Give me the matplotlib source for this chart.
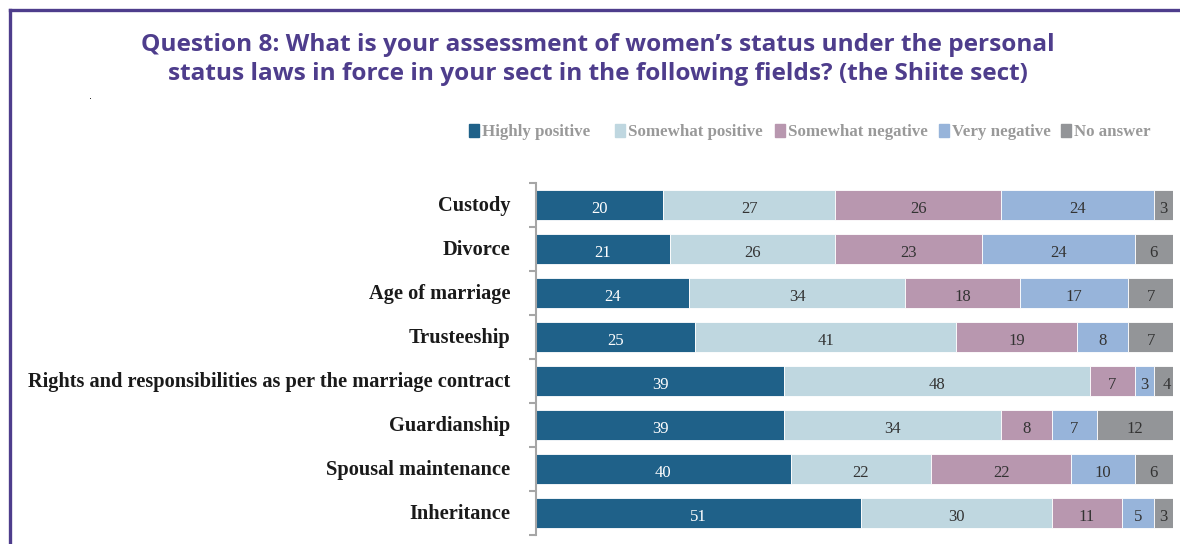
import matplotlib.pyplot as plt
from matplotlib.patches import Rectangle
from matplotlib.lines import Line2D

categories = ["Custody", "Divorce", "Age of marriage", "Trusteeship",
              "Rights and responsibilities as per the marriage contract",
              "Guardianship", "Spousal maintenance", "Inheritance"]
series = ["Highly positive", "Somewhat positive", "Somewhat negative",
          "Very negative", "No answer"]
highly_pos = [20, 21, 24, 25, 39, 39, 40, 51]
somewhat_pos = [27, 26, 34, 41, 48, 34, 22, 30]
somewhat_neg = [26, 23, 18, 19, 7, 8, 22, 11]
very_neg = [24, 24, 17, 8, 3, 7, 10, 5]
no_answer = [3, 6, 7, 7, 4, 12, 6, 3]

colors = ["#1f6189", "#bfd7e0", "#b897af", "#97b4da", "#939598"]
text_colors = ["white", "#333333", "#333333", "#333333", "#333333"]
purple = "#4e3d8c"

fig = plt.figure(figsize=(11.8, 5.44), dpi=100)

# purple frame along the top and left edges
fig.add_artist(Line2D([10 / 1180, 1.0], [1 - 10 / 544] * 2, color=purple, lw=2.4))
fig.add_artist(Line2D([10 / 1180] * 2, [0, 1 - 10 / 544], color=purple, lw=2.4))

fig.text(598 / 1180, 1 - 45 / 544,
         "Question 8: What is your assessment of women\u2019s status under the personal",
         ha="center", va="center", fontsize=17.6, fontweight="bold",
         family="Open Sans", color=purple)
fig.text(598 / 1180, 1 - 74 / 544,
         "status laws in force in your sect in the following fields? (the Shiite sect)",
         ha="center", va="center", fontsize=17.6, fontweight="bold",
         family="Open Sans", color=purple)
fig.text(91 / 1180, 1 - 96 / 544, ".", fontsize=7, color="black", ha="center", va="center")

ax = fig.add_axes([536 / 1180, 1 - 535 / 544, 637 / 1180, 352 / 544])

data = [highly_pos, somewhat_pos, somewhat_neg, very_neg, no_answer]
y = list(range(len(categories)))
left = [0] * len(categories)
for vals, col, tcol, name in zip(data, colors, text_colors, series):
    ax.barh(y, vals, left=left, height=0.68, color=col, edgecolor="white",
            linewidth=0.6, label=name)
    for yi, v, l in zip(y, vals, left):
        ax.text(l + v / 2, yi + 0.1, str(v), ha="center", va="center",
                fontsize=12, family="Liberation Serif", color=tcol)
    left = [l + v for l, v in zip(left, vals)]

ax.set_xlim(0, 100)
ax.set_ylim(len(categories) - 0.5, -0.5)
ax.set_xticks([])
ax.set_yticks([i - 0.5 for i in range(len(categories) + 1)])
ax.set_yticklabels([])
ax.tick_params(axis="y", length=5, color="#a6a6a6", width=1.5)
for s in ["top", "right", "bottom"]:
    ax.spines[s].set_visible(False)
ax.spines["left"].set_color("#a6a6a6")
ax.spines["left"].set_linewidth(1.5)

for yi, cat in zip(y, categories):
    ax.text(-4, yi + 0.03, cat, ha="right", va="center", fontsize=14.7,
            fontweight="bold", family="Liberation Serif", color="#1a1a1a",
            transform=ax.transData)

# legend row drawn by hand
leg_x = [469, 615, 775, 939, 1061]
for x0, col, name in zip(leg_x, colors, series):
    fig.add_artist(Rectangle((x0 / 1180, 1 - 137 / 544), 10 / 1180, 13 / 544,
                             color=col, transform=fig.transFigure))
    fig.text((x0 + 13) / 1180, 1 - 132 / 544, name, ha="left", va="center",
             fontsize=12.2, fontweight="bold", family="Liberation Serif",
             color="#999999")

fig.savefig("out.png", dpi=100)
